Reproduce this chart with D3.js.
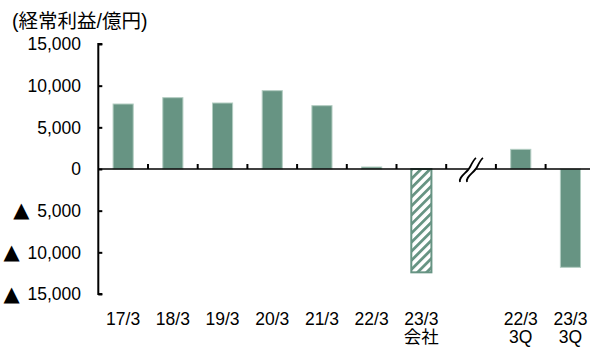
<!DOCTYPE html>
<html><head><meta charset="utf-8">
<script src="https://cdn.jsdelivr.net/npm/d3@7"></script>
<style>
html,body{margin:0;padding:0;background:#fff;}
svg{display:block;}
text{font-family:"Liberation Sans","Noto Sans CJK JP",Arial,sans-serif;fill:#000;}
</style></head>
<body>
<svg id="chart" width="590" height="348"></svg>
<script>
// ---- data ----
const categories = ["17/3","18/3","19/3","20/3","21/3","22/3","23/3 会社","break","22/3 3Q","23/3 3Q"];
const labelLine1 = ["17/3","18/3","19/3","20/3","21/3","22/3","23/3","","22/3","23/3"];
const labelLine2 = ["","","","","","","会社","","3Q","3Q"];
const values = [7800, 8560, 7920, 9400, 7600, 240, -12400, null, 2360, -11800];
const isForecast = [false,false,false,false,false,false,true,false,false,false];
const yTicks = [15000, 10000, 5000, 0, -5000, -10000, -15000];
const title = "(経常利益/億円)";

// ---- drawing ----
const svg = d3.select("#chart");
const green = "#679483";
const axisLeft = 98.3, axisRight = 595.3;
const x = d3.scaleBand().domain(categories).range([axisLeft, axisRight]).padding(0);
const y = d3.scaleLinear().domain([-15000, 15000]).range([294, 44]);

const defs = svg.append("defs");
const pat = defs.append("pattern").attr("id","hatch")
  .attr("patternUnits","userSpaceOnUse").attr("width",6.4).attr("height",10)
  .attr("patternTransform","rotate(45)");
pat.append("rect").attr("width",6.4).attr("height",10).attr("fill","#fff");
pat.append("rect").attr("width",2.8).attr("height",10).attr("fill",green);

// title
svg.append("text").attr("x",12).attr("y",28).attr("font-size",19.5).text(title);

// bars
const bw = x.bandwidth()*0.405;
const data = categories.map((c,i)=>({c, v: values[i], f: isForecast[i]})).filter(d=>d.v!==null);
svg.append("g").selectAll("rect").data(data).join("rect")
  .attr("x", d => x(d.c) + (x.bandwidth()-bw)/2)
  .attr("width", bw)
  .attr("y", d => y(Math.max(0,d.v)))
  .attr("height", d => Math.abs(y(d.v)-y(0)))
  .attr("fill", d => d.f ? "url(#hatch)" : green)
  .attr("stroke", d => d.f ? green : "#b3cdc2")
  .attr("stroke-width", d => d.f ? 2 : 1);

// y axis
const yAxis = d3.axisRight(y).tickValues(yTicks).tickSize(4).tickFormat("");
const gy = svg.append("g").attr("transform",`translate(${axisLeft},0)`).call(yAxis);
gy.select(".domain").attr("d", `M4,${y(15000)}H0V${y(-15000)}H4`).attr("stroke","#000").attr("stroke-width",2).attr("fill","none");
gy.selectAll(".tick line").attr("stroke","#000").attr("stroke-width",2);

const fmt = d3.format(",");
const yl = svg.append("g").selectAll("text").data(yTicks).join("text")
  .attr("x", 81).attr("y", d => y(d) + 6.3)
  .attr("text-anchor","end").attr("font-size",17.5);
yl.each(function(d){
  const t = d3.select(this);
  if (d < 0) {
    t.append("tspan").attr("font-family","DejaVu Sans").attr("font-size",21).attr("dy",0.5).text("▲");
    t.append("tspan").attr("dx",3).attr("dy",-0.5).text(" " + fmt(-d));
  } else {
    t.text(fmt(d));
  }
});

// x baseline with boundary ticks
const gx = svg.append("g");
gx.append("line").attr("x1",axisLeft).attr("x2",590).attr("y1",y(0)).attr("y2",y(0))
  .attr("stroke","#000").attr("stroke-width",1.6);
gx.selectAll("line.tk").data(categories.slice(1)).join("line").attr("class","tk")
  .attr("x1", d => x(d)).attr("x2", d => x(d))
  .attr("y1", y(0)).attr("y2", y(0)-5)
  .attr("stroke","#000").attr("stroke-width",2);

// axis break mark in the empty slot
const bx = x("break") + x.bandwidth()/2, by = y(0);
const curve = (dx) => `M${bx-11+dx},${by+13} C${bx-13+dx},${by+8} ${bx-4+dx},${by+4} ${bx-1+dx},${by-2} S${bx+3+dx},${by-10} ${bx+5+dx},${by-11}`;
svg.append("path")
  .attr("d", `M${bx-7},${by+5} L${bx+2},${by-5} L${bx+8},${by-5} L${bx-1},${by+5} Z`)
  .attr("fill","#fff");
[0,7].forEach(dx => svg.append("path").attr("d", curve(dx))
  .attr("fill","none").attr("stroke","#000").attr("stroke-width",1.8));

// x labels
const gl = svg.append("g").attr("font-size",17.5).attr("text-anchor","middle");
categories.forEach((c,i) => {
  const cx = x(c) + x.bandwidth()/2;
  if (labelLine1[i]) gl.append("text").attr("x",cx).attr("y",324.5).text(labelLine1[i]);
  if (labelLine2[i]) gl.append("text").attr("x",cx).attr("y",343).text(labelLine2[i]);
});
</script>
</body></html>
